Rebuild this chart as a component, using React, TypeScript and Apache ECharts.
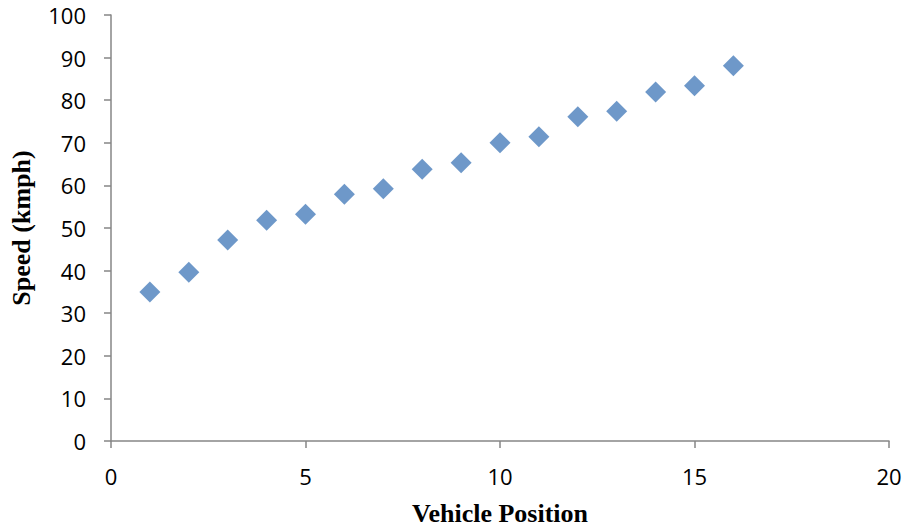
import React, { useEffect, useRef } from "react";
import * as echarts from "echarts";

const positions = [1, 2, 3, 4, 5, 6, 7, 8, 9, 10, 11, 12, 13, 14, 15, 16];
const speeds = [35.0, 39.6, 47.2, 51.8, 53.2, 57.9, 59.2, 63.8, 65.3, 70.0, 71.4, 76.1, 77.4, 81.9, 83.4, 88.1];
const xTitle = "Vehicle Position";
const yTitle = "Speed (kmph)";

export default function App() {
  const ref = useRef<HTMLDivElement>(null);
  useEffect(() => {
    if (!ref.current) return;
    const chart = echarts.init(ref.current, undefined, { renderer: "svg" });
    const axisLine = { show: true, lineStyle: { color: "#868686", width: 1.5 } };
    const labelStyle = { color: "#000", fontFamily: "Open Sans", fontSize: 22 };
    const titleStyle = { fontFamily: "Liberation Serif", fontWeight: "bold", fontSize: 26, color: "#000" };
    chart.setOption({
      animation: false,
      grid: { left: 111, top: 15, right: 19, bottom: 87, containLabel: false, outerBoundsMode: "none" },
      xAxis: {
        type: "value",
        min: 0,
        max: 20,
        interval: 5,
        axisLine: { ...axisLine, onZero: false },
        axisTick: { show: true, length: 7, lineStyle: { color: "#868686", width: 1.5 } },
        axisLabel: { ...labelStyle, margin: 24 },
        splitLine: { show: false },
        name: xTitle,
        nameLocation: "middle",
        nameGap: 59,
        nameTextStyle: titleStyle,
      },
      yAxis: {
        type: "value",
        min: 0,
        max: 100,
        interval: 10,
        axisLine: axisLine,
        axisTick: { show: true, length: 7, lineStyle: { color: "#868686", width: 1.5 } },
        axisLabel: { ...labelStyle, margin: 25 },
        splitLine: { show: false },
        name: yTitle,
        nameLocation: "middle",
        nameGap: 77,
        nameRotate: 90,
        nameTextStyle: titleStyle,
      },
      series: [
        {
          type: "scatter",
          data: positions.map((p, i) => [p, speeds[i]]),
          symbol: "diamond",
          symbolSize: 21,
          itemStyle: { color: "#4A7EBB" },
        },
      ],
    });
    return () => chart.dispose();
  }, []);
  return (
    <div
      ref={ref}
      style={{ position: "absolute", left: 0, top: 0, width: 908, height: 528 }}
    />
  );
}
